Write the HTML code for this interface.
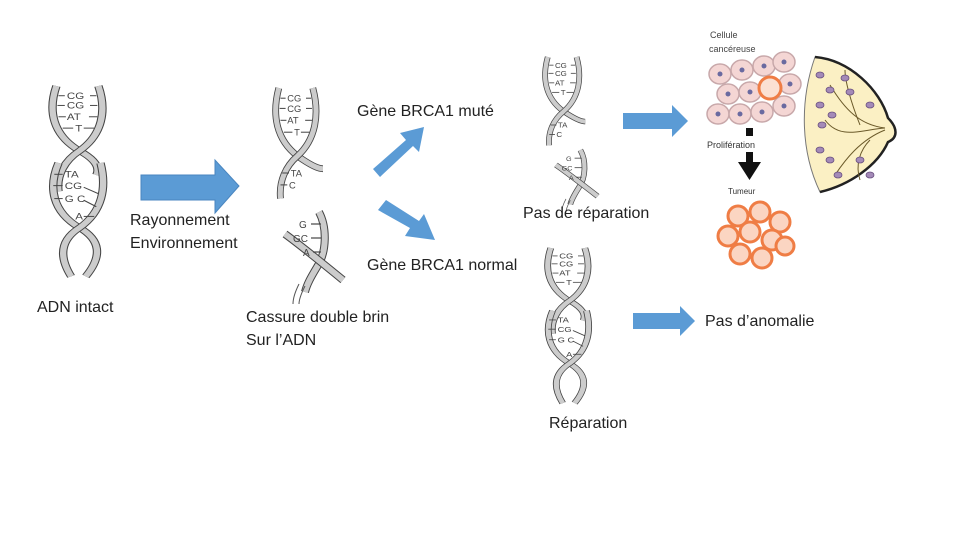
<!DOCTYPE html>
<html><head><meta charset="utf-8"><style>html,body{margin:0;padding:0;background:#fff}svg{display:block}</style></head>
<body>
<svg width="960" height="540" viewBox="0 0 960 540" xmlns="http://www.w3.org/2000/svg" font-family="Liberation Sans, sans-serif">
<defs>
  <g id="helixTop">
    <path d="M8,0 C0,30 4,60 30,80 C44,90 50,100 46,110" fill="none" stroke="#444" stroke-width="8"/>
    <path d="M8,0 C0,30 4,60 30,80 C44,90 50,100 46,110" fill="none" stroke="#ccc" stroke-width="6"/>
    <path d="M48,0 C56,30 52,60 30,80 C16,92 8,110 10,130" fill="none" stroke="#444" stroke-width="8"/>
    <path d="M48,0 C56,30 52,60 30,80 C16,92 8,110 10,130" fill="none" stroke="#ccc" stroke-width="6"/>
    <g stroke="#444" stroke-width="1.2">
      <line x1="10" y1="12" x2="16" y2="12"/><line x1="40" y1="12" x2="46" y2="12"/>
      <line x1="9" y1="24" x2="16" y2="24"/><line x1="40" y1="24" x2="47" y2="24"/>
      <line x1="10" y1="38" x2="17" y2="38"/><line x1="39" y1="38" x2="47" y2="38"/>
      <line x1="14" y1="52" x2="24" y2="52"/><line x1="34" y1="52" x2="44" y2="52"/>
    </g>
    <g font-size="11" fill="#444"><text x="18" y="16">CG</text><text x="18" y="28">CG</text><text x="18" y="42">AT</text><text x="26" y="56">T</text></g>
  </g>
  <g id="helixBottom">
    <path d="M10,0 C0,30 4,60 30,80 C50,95 52,115 36,140" fill="none" stroke="#444" stroke-width="8"/>
    <path d="M10,0 C0,30 4,60 30,80 C50,95 52,115 36,140" fill="none" stroke="#ccc" stroke-width="6"/>
    <path d="M50,0 C56,30 52,60 30,80 C12,95 10,115 22,140" fill="none" stroke="#444" stroke-width="8"/>
    <path d="M50,0 C56,30 52,60 30,80 C12,95 10,115 22,140" fill="none" stroke="#ccc" stroke-width="6"/>
    <g stroke="#444" stroke-width="1.2">
      <line x1="6" y1="14" x2="14" y2="14"/><line x1="5" y1="28" x2="14" y2="28"/><line x1="34" y1="30" x2="48" y2="38"/>
      <line x1="6" y1="44" x2="14" y2="44"/><line x1="34" y1="46" x2="46" y2="54"/><line x1="34" y1="66" x2="44" y2="66"/>
    </g>
    <g font-size="11" fill="#444"><text x="16" y="18">TA</text><text x="16" y="32">CG</text><text x="16" y="48">G C</text><text x="26" y="70">A</text></g>
  </g>
  <g id="helixFull">
    <use href="#helixTop"/>
    <use href="#helixBottom" transform="translate(0,95)"/>
  </g>
  <g id="breakTop">
    <path d="M8,0 C0,30 4,60 30,80 C44,90 54,95 60,95" fill="none" stroke="#444" stroke-width="8"/>
    <path d="M8,0 C0,30 4,60 30,80 C44,90 54,95 60,95" fill="none" stroke="#ccc" stroke-width="6"/>
    <path d="M48,0 C56,30 52,60 30,80 C16,92 8,110 10,130" fill="none" stroke="#444" stroke-width="8"/>
    <path d="M48,0 C56,30 52,60 30,80 C16,92 8,110 10,130" fill="none" stroke="#ccc" stroke-width="6"/>
    <g stroke="#444" stroke-width="1.2">
      <line x1="10" y1="12" x2="16" y2="12"/><line x1="40" y1="12" x2="46" y2="12"/>
      <line x1="9" y1="24" x2="16" y2="24"/><line x1="40" y1="24" x2="47" y2="24"/>
      <line x1="10" y1="38" x2="17" y2="38"/><line x1="39" y1="38" x2="47" y2="38"/>
      <line x1="14" y1="52" x2="24" y2="52"/><line x1="34" y1="52" x2="44" y2="52"/>
      <line x1="12" y1="100" x2="20" y2="100"/><line x1="10" y1="114" x2="18" y2="114"/>
    </g>
    <g font-size="11" fill="#444"><text x="18" y="16">CG</text><text x="18" y="28">CG</text><text x="18" y="42">AT</text><text x="26" y="56">T</text><text x="22" y="104">TA</text><text x="20" y="118">C</text></g>
  </g>
  <g id="breakBottom">
    <path d="M38,0 C46,15 46,40 36,55 C30,65 26,72 24,80" fill="none" stroke="#444" stroke-width="8"/>
    <path d="M38,0 C46,15 46,40 36,55 C30,65 26,72 24,80" fill="none" stroke="#ccc" stroke-width="6"/>
    <path d="M4,22 C15,30 40,50 62,68" fill="none" stroke="#444" stroke-width="8"/>
    <path d="M4,22 C15,30 40,50 62,68" fill="none" stroke="#ccc" stroke-width="6"/>
    <g stroke="#444" stroke-width="1.2"><line x1="30" y1="12" x2="40" y2="12"/><line x1="30" y1="26" x2="40" y2="26"/><line x1="32" y1="40" x2="40" y2="40"/></g>
    <g font-size="10" fill="#444"><text x="18" y="16">G</text><text x="12" y="30">GC</text><text x="22" y="44">A</text></g>
    <path d="M18,72 C14,80 12,86 12,92 M24,74 C20,82 18,88 18,92" fill="none" stroke="#555" stroke-width="1"/>
  </g>
</defs>

<!-- helix 1 -->
<use href="#helixFull" transform="translate(48,86) scale(1.05,0.81)"/>
<!-- big arrow -->
<polygon points="141,175 215,175 215,160 239,186 215,213 215,200 141,200" fill="#5b9bd5" stroke="#4a86c0" stroke-width="1"/>
<text x="130" y="225" font-size="16" fill="#222">Rayonnement</text>
<text x="130" y="248" font-size="16" fill="#222">Environnement</text>
<text x="37" y="312" font-size="16" fill="#222">ADN intact</text>

<!-- helix 2 broken -->
<use href="#breakTop" transform="translate(272,88) scale(0.85,0.85)"/>
<use href="#breakBottom" transform="translate(281,212)"/>
<text x="246" y="322" font-size="16" fill="#222">Cassure double brin</text>
<text x="246" y="345" font-size="16" fill="#222">Sur l’ADN</text>

<!-- diagonal arrows -->
<polygon points="373,169 406,140 400,133 424,127 419,152 413,146 380,177" fill="#5b9bd5"/>
<polygon points="378,210 410,228 405,236 435,240 424,214 419,221 386,200" fill="#5b9bd5"/>
<text x="357" y="116" font-size="16" fill="#222">Gène BRCA1 muté</text>
<text x="367" y="270" font-size="16" fill="#222">Gène BRCA1 normal</text>

<!-- helix 3 -->
<use href="#breakTop" transform="translate(542,57) scale(0.72,0.68)"/>
<use href="#breakBottom" transform="translate(553,150) scale(0.72,0.68)"/>
<text x="523" y="218" font-size="16" fill="#222">Pas de réparation</text>
<polygon points="623,113 672,113 672,105 688,121 672,137 672,129 623,129" fill="#5b9bd5"/>

<!-- helix 4 -->
<use href="#helixFull" transform="translate(544,248) scale(0.85,0.66)"/>
<text x="549" y="428" font-size="16" fill="#222">Réparation</text>
<polygon points="633,313 680,313 680,306 695,321 680,336 680,329 633,329" fill="#5b9bd5"/>
<text x="705" y="326" font-size="16" fill="#222">Pas d’anomalie</text>

<!-- cells -->
<text x="710" y="38" font-size="9" fill="#444">Cellule</text>
<text x="709" y="52" font-size="9" fill="#444">cancéreuse</text>
<g fill="#f4d6d4" stroke="#c8a8aa" stroke-width="1.5">
  <ellipse cx="720" cy="74" rx="11" ry="10"/><ellipse cx="742" cy="70" rx="11" ry="10"/><ellipse cx="764" cy="66" rx="11" ry="10"/><ellipse cx="784" cy="62" rx="11" ry="10"/>
  <ellipse cx="728" cy="94" rx="11" ry="10"/><ellipse cx="750" cy="92" rx="11" ry="10"/><ellipse cx="790" cy="84" rx="11" ry="10"/>
  <ellipse cx="718" cy="114" rx="11" ry="10"/><ellipse cx="740" cy="114" rx="11" ry="10"/><ellipse cx="762" cy="112" rx="11" ry="10"/><ellipse cx="784" cy="106" rx="11" ry="10"/>
</g>
<ellipse cx="770" cy="88" rx="11" ry="11" fill="#fbe0d2" stroke="#ef7d45" stroke-width="3"/>
<g fill="#6a6aa0">
  <circle cx="720" cy="74" r="2.5"/><circle cx="742" cy="70" r="2.5"/><circle cx="764" cy="66" r="2.5"/><circle cx="784" cy="62" r="2.5"/>
  <circle cx="728" cy="94" r="2.5"/><circle cx="750" cy="92" r="2.5"/><circle cx="790" cy="84" r="2.5"/>
  <circle cx="718" cy="114" r="2.5"/><circle cx="740" cy="114" r="2.5"/><circle cx="762" cy="112" r="2.5"/><circle cx="784" cy="106" r="2.5"/>
</g>
<rect x="746" y="128" width="7" height="8" fill="#111"/>
<text x="707" y="148" font-size="9" fill="#333">Prolifération</text>
<polygon points="746,152 753,152 753,162 761,162 749.5,180 738,162 746,162" fill="#111"/>
<text x="728" y="194" font-size="8" fill="#333">Tumeur</text>
<g fill="#fbd5c2" stroke="#ef7d45" stroke-width="3">
  <circle cx="738" cy="216" r="10"/><circle cx="760" cy="212" r="10"/><circle cx="780" cy="222" r="10"/>
  <circle cx="728" cy="236" r="10"/><circle cx="750" cy="232" r="10"/><circle cx="772" cy="240" r="10"/>
  <circle cx="740" cy="254" r="10"/><circle cx="762" cy="258" r="10"/><circle cx="785" cy="246" r="9"/>
</g>
<!-- breast -->
<path d="M815,57 C850,60 880,90 888,118 C898,128 898,138 888,142 C878,165 850,185 820,192 C800,150 800,100 815,57 Z" fill="#fbf0c4" stroke="#777" stroke-width="1"/>
<path d="M815,57 C850,60 880,90 888,118 C898,128 898,138 888,142 C878,165 850,185 820,192" fill="none" stroke="#222" stroke-width="2.5"/>
<g stroke="#6b5a2a" stroke-width="1" fill="none">
  <path d="M885,128 C860,125 845,110 830,85"/><path d="M885,128 C860,130 840,140 825,120"/><path d="M885,130 C860,140 845,160 835,175"/><path d="M860,125 C850,100 845,80 845,70"/><path d="M870,140 C860,150 855,165 860,180"/>
</g>
<g fill="#a48ab8" stroke="#6a5080" stroke-width="0.8">
  <ellipse cx="820" cy="75" rx="4" ry="3"/><ellipse cx="830" cy="90" rx="4" ry="3"/><ellipse cx="845" cy="78" rx="4" ry="3"/><ellipse cx="850" cy="92" rx="4" ry="3"/>
  <ellipse cx="820" cy="105" rx="4" ry="3"/><ellipse cx="822" cy="125" rx="4" ry="3"/><ellipse cx="832" cy="115" rx="4" ry="3"/><ellipse cx="870" cy="105" rx="4" ry="3"/>
  <ellipse cx="820" cy="150" rx="4" ry="3"/><ellipse cx="830" cy="160" rx="4" ry="3"/><ellipse cx="838" cy="175" rx="4" ry="3"/><ellipse cx="860" cy="160" rx="4" ry="3"/><ellipse cx="870" cy="175" rx="4" ry="3"/>
</g>
</svg>
</body></html>
